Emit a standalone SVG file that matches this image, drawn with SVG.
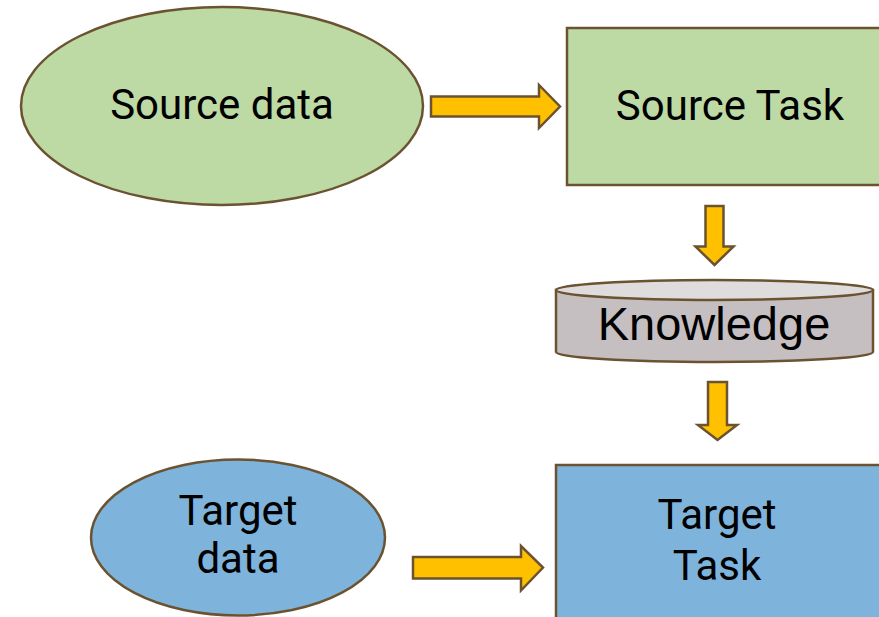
<svg xmlns="http://www.w3.org/2000/svg" width="879" height="617" viewBox="0 0 879 617">
  <style>
    .edge { stroke: #6B5331; stroke-width: 2.5; }
    .green { fill: #BDDAA5; }
    .blue { fill: #7EB3DB; }
    .arrow { fill: #FFC000; stroke: #6B5331; stroke-width: 2.5; stroke-linejoin: miter; }
    .label { font-family: Roboto, "Liberation Sans", sans-serif; font-size: 42px; fill: #000; text-anchor: middle; }
    .klabel { font-family: "Liberation Sans", Arial, sans-serif; font-size: 47px; fill: #000; text-anchor: middle; }
  </style>
  <rect width="879" height="617" fill="#ffffff"/>

  <g id="source-data">
    <ellipse class="green edge" cx="222" cy="106" rx="201" ry="99"/>
    <text class="label" x="222" y="119">Source data</text>
  </g>

  <g id="source-task">
    <rect class="green edge" x="567" y="28" width="330" height="157"/>
    <text class="label" x="730" y="120">Source Task</text>
  </g>

  <g id="knowledge">
    <path d="M556,290 L556,352 A158.5,10 0 0 0 873,352 L873,290 Z" fill="#C5BFC2" class="edge"/>
    <ellipse cx="714.5" cy="290" rx="158.5" ry="10" fill="#DEDCDD" class="edge"/>
    <text class="klabel" x="714" y="340">Knowledge</text>
  </g>

  <g id="target-data">
    <ellipse class="blue edge" cx="238" cy="537.5" rx="147" ry="78"/>
    <text class="label" x="238" y="525">Target</text>
    <text class="label" x="238" y="573">data</text>
  </g>

  <g id="target-task">
    <rect class="blue edge" x="556" y="465" width="340" height="170"/>
    <text class="label" x="717" y="529">Target</text>
    <text class="label" x="717" y="580">Task</text>
  </g>

  <g id="connectors">
    <polygon class="arrow" points="431,96.5 539,96.5 539,85 560,106.5 539,128 539,116.5 431,116.5"/>
    <polygon class="arrow" points="705.5,206 723.5,206 723.5,246.5 733.5,246.5 714.5,265 695.5,246.5 705.5,246.5"/>
    <polygon class="arrow" points="708,382 727,382 727,425 737,425 717.5,440 698,425 708,425"/>
    <polygon class="arrow" points="413,557 521,557 521,546 543,567.5 521,590.5 521,578.5 413,578.5"/>
  </g>
</svg>
